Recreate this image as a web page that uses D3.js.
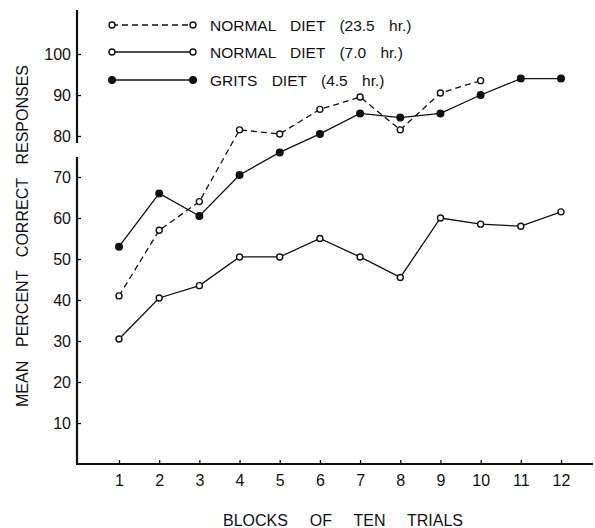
<!DOCTYPE html>
<html>
<head>
<meta charset="utf-8">
<script src="https://cdn.jsdelivr.net/npm/d3@7"></script>
<style>
  html, body { margin: 0; padding: 0; background: #fff; }
  svg { display: block; }
  text { font-family: "Liberation Sans", Arial, sans-serif; fill: #111; }
</style>
</head>
<body>
<div id="chart"></div>
<script>
// ------- data -------
const blocks = [1, 2, 3, 4, 5, 6, 7, 8, 9, 10, 11, 12];
const normalDiet235 = [41, 57, 64, 81.5, 80.5, 86.5, 89.5, 81.5, 90.5, 93.5];
const normalDiet70 = [30.5, 40.5, 43.5, 50.5, 50.5, 55, 50.5, 45.5, 60, 58.5, 58, 61.5];
const gritsDiet = [53, 66, 60.5, 70.5, 76, 80.5, 85.5, 84.5, 85.5, 90, 94, 94];
const yTicks = [10, 20, 30, 40, 50, 60, 70, 80, 90, 100];
const seriesNames = ["NORMAL DIET (23.5 hr.)", "NORMAL DIET (7.0 hr.)", "GRITS DIET (4.5 hr.)"];

(() => {
  const W = 595, H = 528;
  const INK = "#111";

  const series = [
    { name: seriesNames[0], values: normalDiet235, dash: "6,4", filled: false },
    { name: seriesNames[1], values: normalDiet70, dash: null, filled: false },
    { name: seriesNames[2], values: gritsDiet, dash: null, filled: true }
  ];

  const svg = d3.select("#chart").append("svg")
    .attr("width", W).attr("height", H);

  const x = d3.scaleLinear().domain([1, 12]).range([119, 561]);
  const y = d3.scaleLinear().domain([0, 100]).range([464, 54]);
  const axisX = 77;

  // ------- axes -------
  const styleAxis = g => g
    .call(g => g.select(".domain").remove())
    .call(g => g.selectAll("line").attr("stroke", INK).attr("stroke-width", 1.3))
    .call(g => g.selectAll("text")
      .attr("fill", INK)
      .style("font-size", "16px")
      .style("font-family", "'Liberation Sans', Arial, sans-serif"));

  svg.append("g")
    .attr("transform", `translate(${axisX},0)`)
    .call(d3.axisLeft(y).tickValues(yTicks).tickSize(-4).tickPadding(6))
    .call(styleAxis);

  svg.append("g")
    .attr("transform", `translate(0,${y(0)})`)
    .call(d3.axisBottom(x).tickValues(blocks).tickSize(-4).tickPadding(11))
    .call(styleAxis);

  // axis lines (the vertical one has a small break between 70 and 80)
  const axisPath = [
    [[axisX, 10], [axisX, 143]],
    [[axisX, 157], [axisX, y(0)]],
    [[axisX - 1, y(0)], [593, y(0)]]
  ];
  svg.append("g").selectAll("line")
    .data(axisPath)
    .enter().append("line")
    .attr("x1", d => d[0][0]).attr("y1", d => d[0][1])
    .attr("x2", d => d[1][0]).attr("y2", d => d[1][1])
    .attr("stroke", INK).attr("stroke-width", 2.2);

  // ------- titles (wide word gaps like the lettering guide) -------
  const spreadText = (sel, target) => {
    const len = sel.node().getComputedTextLength();
    const gaps = (sel.text().match(/ /g) || []).length;
    if (gaps) sel.attr("word-spacing", (target - len) / gaps);
  };

  const xTitle = svg.append("text")
    .attr("x", 343).attr("y", 526)
    .attr("text-anchor", "middle")
    .style("font-size", "16px")
    .text("BLOCKS OF TEN TRIALS");
  spreadText(xTitle, 240);

  const yTitle = svg.append("text")
    .attr("transform", `translate(28,236) rotate(-90)`)
    .attr("text-anchor", "middle")
    .style("font-size", "16px")
    .text("MEAN PERCENT CORRECT RESPONSES");
  spreadText(yTitle, 342);

  // ------- lines + points -------
  const line = d3.line()
    .x((d, i) => x(blocks[i]))
    .y(d => y(d));

  const drawMarkers = (g, pts, filled) => {
    g.selectAll("circle")
      .data(pts)
      .enter().append("circle")
      .attr("cx", d => d[0]).attr("cy", d => d[1])
      .attr("r", filled ? 3.3 : 3)
      .attr("fill", filled ? INK : "#fff")
      .attr("stroke", INK)
      .attr("stroke-width", 1.4);
  };

  series.forEach(s => {
    const g = svg.append("g");
    g.append("path")
      .attr("d", line(s.values))
      .attr("fill", "none")
      .attr("stroke", INK)
      .attr("stroke-width", 1.3)
      .attr("stroke-dasharray", s.dash);
    drawMarkers(g, s.values.map((v, i) => [x(blocks[i]), y(v)]), s.filled);
  });

  // ------- legend -------
  const legendY = [25, 52, 80];
  series.forEach((s, i) => {
    const g = svg.append("g");
    const ly = legendY[i];
    g.append("line")
      .attr("x1", 112).attr("x2", 193)
      .attr("y1", ly).attr("y2", ly)
      .attr("stroke", INK)
      .attr("stroke-width", 1.3)
      .attr("stroke-dasharray", s.dash);
    drawMarkers(g, [[112, ly], [193, ly]], s.filled);
    g.append("text")
      .attr("x", 210).attr("y", ly + 5.5)
      .attr("word-spacing", 10)
      .style("font-size", "15.5px")
      .text(s.name);
  });
})();
</script>
</body>
</html>
